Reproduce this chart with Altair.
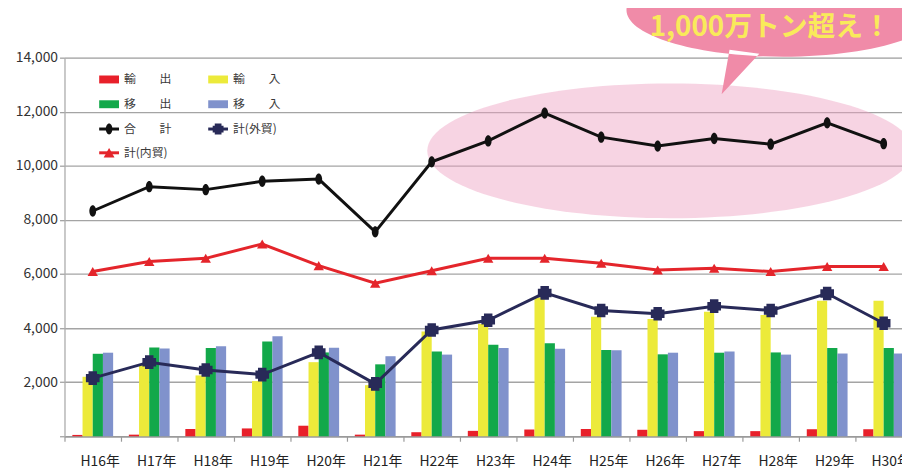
import altair as alt
import pandas as pd

years = ["H16年", "H17年", "H18年", "H19年", "H20年", "H21年", "H22年", "H23年",
         "H24年", "H25年", "H26年", "H27年", "H28年", "H29年", "H30年"]

exports = [50, 60, 270, 290, 390, 60, 150, 200, 250, 270, 240, 190, 190, 260, 260]
imports = [2200, 2650, 2250, 2040, 2740, 1890, 3870, 4150, 5130, 4420, 4340, 4600, 4480, 5010, 5010]
ship_out = [3050, 3280, 3260, 3500, 3100, 2660, 3130, 3380, 3440, 3190, 3030, 3090, 3100, 3260, 3260]
ship_in = [3090, 3250, 3330, 3700, 3270, 2960, 3020, 3260, 3240, 3180, 3090, 3130, 3020, 3060, 3060]

total = [8330, 9230, 9120, 9430, 9510, 7560, 10150, 10920, 11950, 11060, 10730, 11010, 10800, 11590, 10820]
foreign = [2150, 2740, 2450, 2280, 3100, 1940, 3930, 4290, 5300, 4650, 4530, 4810, 4650, 5280, 4180]
domestic = [6090, 6460, 6580, 7110, 6310, 5660, 6120, 6580, 6580, 6400, 6150, 6210, 6090, 6280, 6280]

bar_names = ["輸出", "輸入", "移出", "移入"]
bar_colors = ["#e8202a", "#ecea3a", "#12a84a", "#8092cc"]

line_names = ["合計", "計(外貿)", "計(内貿)"]
line_colors = ["#111111", "#282a58", "#e4252b"]

legend_labels = ["輸　　出", "輸　　入", "移　　出", "移　　入", "合　　計", "計(外貿)", "計(内貿)"]
callout_text = "1,000万トン超え！"

FONT = "Noto Sans CJK JP"

# ---------- data tables ----------
bar_rows = []
for i, yr in enumerate(years):
    for name, vals in zip(bar_names, [exports, imports, ship_out, ship_in]):
        bar_rows.append({"year": yr, "kind": name, "value": vals[i]})
bars_df = pd.DataFrame(bar_rows)

line_rows = []
for name, vals in zip(line_names, [total, foreign, domestic]):
    for yr, v in zip(years, vals):
        line_rows.append({"year": yr, "series": name, "value": v})
lines_df = pd.DataFrame(line_rows)

# ---------- shapes ----------
ellipse_marker = ("M -0.6 0 C -0.6 -0.5523 -0.3314 -1 0 -1 C 0.3314 -1 0.6 -0.5523 0.6 0 "
                  "C 0.6 0.5523 0.3314 1 0 1 C -0.3314 1 -0.6 0.5523 -0.6 0 Z")
plus_marker = ("M -0.62 -1 L 0.62 -1 L 0.62 -0.62 L 1 -0.62 L 1 0.62 L 0.62 0.62 L 0.62 1 "
               "L -0.62 1 L -0.62 0.62 L -1 0.62 L -1 -0.62 L -0.62 -0.62 Z")
line_shapes = [ellipse_marker, plus_marker, "triangle-up"]
line_sizes = [130, 190, 110]

# ---------- encodings ----------
x_enc = alt.X(
    "year:N", sort=years, title=None,
    scale=alt.Scale(paddingInner=0, paddingOuter=0, range=[0, 855]),
    axis=alt.Axis(labelAngle=0, labelFont=FONT, labelFontSize=14, labelColor="#222",
                  tickBand="extent", tickColor="#9a9a9a", tickSize=5, tickWidth=1.2,
                  domainColor="#9a9a9a", domainWidth=1.5, labelPadding=13, labelOffset=7,
                  grid=False),
)
y_enc = alt.Y(
    "value:Q", title=None,
    scale=alt.Scale(domain=[0, 14000], nice=False),
    axis=alt.Axis(values=[0, 2000, 4000, 6000, 8000, 10000, 12000, 14000],
                  labelExpr="datum.value == 0 ? '' : format(datum.value, ',')",
                  labelFont=FONT, labelFontSize=14, labelColor="#333",
                  tickColor="#9a9a9a", tickSize=5, tickWidth=1.2, labelPadding=2,
                  grid=True, gridColor="#a4a4a4", gridWidth=1.3,
                  domainColor="#b0b0b0", domainWidth=1.2),
)

one = pd.DataFrame({"a": [0]})

# pink highlight ellipse (pixel path, size 4 -> scale 1)
hl_path = ("M -245 0 C -245 -37.6 -135.3 -68 0 -68 C 135.3 -68 245 -37.6 245 0 "
           "C 245 37.6 135.3 68 0 68 C -135.3 68 -245 37.6 -245 0 Z")
highlight = alt.Chart(one).mark_point(
    shape=hl_path, size=4, filled=True, color="#ee9fc2", opacity=0.45, strokeWidth=0
).encode(x=alt.value(611), y=alt.value(94))

bars = alt.Chart(bars_df).mark_bar().encode(
    x=x_enc,
    xOffset=alt.XOffset("kind:N", sort=bar_names,
                        scale=alt.Scale(paddingInner=0, paddingOuter=0.77)),
    y=y_enc,
    color=alt.Color("kind:N", scale=alt.Scale(domain=bar_names, range=bar_colors), legend=None),
)

line_layers = []
for name, col, shp, sz in zip(line_names, line_colors, line_shapes, line_sizes):
    base = alt.Chart(lines_df).transform_filter(alt.datum.series == name)
    line_layers.append(base.mark_line(color=col, strokeWidth=3).encode(x=x_enc, y=y_enc))
    line_layers.append(base.mark_point(shape=shp, size=sz, filled=True, color=col, opacity=1,
                                       strokeWidth=0).encode(x=x_enc, y=y_enc))

# ---------- manual legend ----------
leg_colors = bar_colors + line_colors
leg_col = [0, 1, 0, 1, 0, 1, 0]
leg_row = [0, 0, 1, 1, 2, 2, 3]
leg_kind = ["box"] * 4 + ["line"] * 3
leg_shape = ["square"] * 4 + line_shapes
col_x = [45, 155]
row_y = [22, 47, 72, 96]
leg_df = pd.DataFrame({
    "label": legend_labels,
    "color": leg_colors,
    "kind": leg_kind,
    "shape": leg_shape,
    "sx": [col_x[c] for c in leg_col],
    "sy": [row_y[r] for r in leg_row],
})
leg_df["sx0"] = leg_df["sx"] - 10
leg_df["sx1"] = leg_df["sx"] + 10
leg_df["sy0"] = leg_df["sy"] - 4
leg_df["sy1"] = leg_df["sy"] + 4
leg_df["tx"] = leg_df["sx"] + 15

leg_base = alt.Chart(leg_df)
leg_box = leg_base.transform_filter(alt.datum.kind == "box").mark_rect().encode(
    x=alt.X("sx0:Q", scale=None), x2="sx1:Q",
    y=alt.Y("sy0:Q", scale=None), y2="sy1:Q",
    color=alt.Color("color:N", scale=None),
)
leg_line = leg_base.transform_filter(alt.datum.kind == "line").mark_rule(strokeWidth=3).encode(
    x=alt.X("sx0:Q", scale=None), x2="sx1:Q",
    y=alt.Y("sy:Q", scale=None),
    color=alt.Color("color:N", scale=None),
)
leg_pt = leg_base.transform_filter(alt.datum.kind == "line").mark_point(
    filled=True, size=120, opacity=1, strokeWidth=0).encode(
    x=alt.X("sx:Q", scale=None), y=alt.Y("sy:Q", scale=None),
    color=alt.Color("color:N", scale=None),
    shape=alt.Shape("shape:N", scale=None),
)
leg_text = leg_base.mark_text(align="left", baseline="middle", font=FONT, fontSize=12,
                              color="#3a3a3a").encode(
    x=alt.X("tx:Q", scale=None), y=alt.Y("sy:Q", scale=None), text="label:N",
)

# ---------- callout bubble ----------
bubble_path = ("M -158 0 C -158 -26 -87.3 -47 0 -47 C 87.3 -47 158 -26 158 0 "
               "C 158 26 87.3 47 0 47 C -87.3 47 -158 26 -158 0 Z "
               "M -54 40 L -62 85 L -24 44 Z")
bubble = alt.Chart(one).mark_point(
    shape=bubble_path, size=4, filled=True, color="#f08ba8", opacity=1, strokeWidth=0
).encode(x=alt.value(725), y=alt.value(-48))
bubble_text = alt.Chart(one).mark_text(
    font=FONT, fontSize=28, fontWeight="bold", color="#f9ea5a", align="center", baseline="middle"
).encode(x=alt.value(712), y=alt.value(-30), text=alt.value(callout_text))

chart = alt.layer(
    highlight, bars, *line_layers, leg_box, leg_line, leg_pt, leg_text, bubble, bubble_text
).properties(
    width=845, height=382,
    autosize=alt.AutoSizeParams(type="none"),
    padding={"left": 57, "top": 48, "right": 0, "bottom": 40},
).configure_view(stroke=None).configure(background="white")

chart.save("out.html", embed_options={"renderer": "svg", "actions": False})
